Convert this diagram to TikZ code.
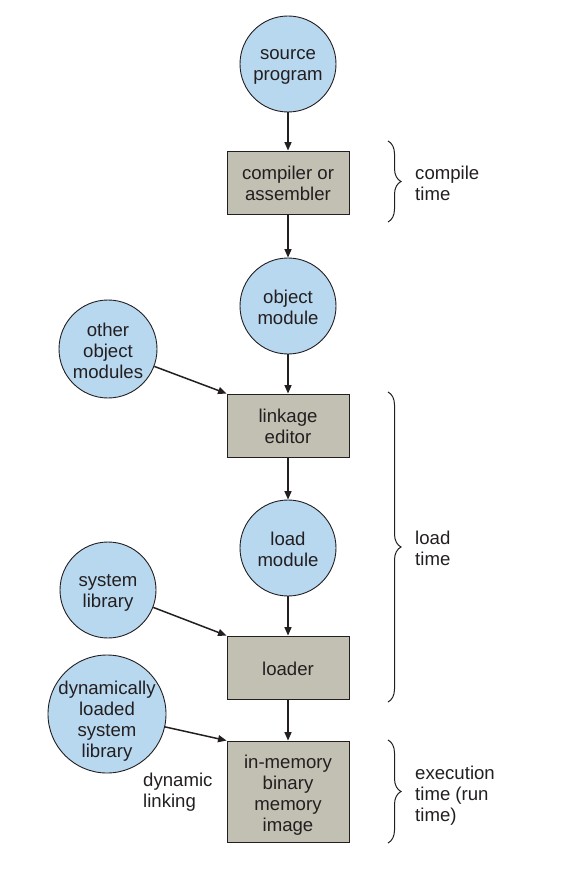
\documentclass[tikz,border=0pt]{standalone}
\usepackage{fontspec}
\setmainfont{Liberation Sans}
\usetikzlibrary{decorations.pathreplacing,arrows.meta}
\definecolor{cblue}{RGB}{184,216,240}
\definecolor{bgray}{RGB}{194,191,179}
\definecolor{ink}{RGB}{35,31,32}
\begin{document}
\begin{tikzpicture}[x=1pt,y=-1pt,
 every node/.style={font=\fontsize{18.6}{21}\selectfont, text=ink},
 circ/.style={circle, draw=ink, fill=cblue, line width=0.9pt, minimum size=96pt, inner sep=0pt},
 proc/.style={rectangle, draw=ink, fill=bgray, line width=0.9pt, minimum width=122pt, minimum height=63pt, inner sep=0pt},
 tx/.style={align=center, inner sep=0pt, anchor=north, execute at begin node=\strut},
 lbl/.style={align=left, inner sep=0pt, anchor=north west, execute at begin node=\strut},
 arr/.style={draw=ink, line width=1.5pt, -{Triangle[length=8.5pt,width=7pt]}},
 brc/.style={draw=ink, line width=1pt, decorate, decoration={brace, amplitude=13pt}}]
\useasboundingbox (0,0) rectangle (564,874);
% shapes
\node[circ] (src) at (288,64) {};
\node[proc] (comp) at (288,182.5) {};
\node[circ] (obj) at (288,306) {};
\node[circ, minimum size=98pt] (other) at (108,349) {};
\node[proc] (link) at (288,425.5) {};
\node[circ] (loadm) at (288,548) {};
\node[circ] (syslib) at (108,590) {};
\node[proc] (loader) at (288,667.5) {};
\node[circ, minimum size=118pt] (dyn) at (107,714) {};
\node[proc, minimum height=101pt] (mem) at (288,791.5) {};
% texts
\node[tx] (src-t) at (288,49.3) {source\\program};
\node[tx] (comp-t) at (288,166.3) {compiler or\\assembler};
\node[tx] (obj-t) at (288,289.8) {object\\module};
\node[tx] (other-t) at (108,322.6) {other\\object\\modules};
\node[tx] (link-t) at (288,409.3) {linkage\\editor};
\node[tx] (loadm-t) at (288,531.8) {load\\module};
\node[tx] (syslib-t) at (108,573.8) {system\\library};
\node[tx] (loader-t) at (288,660.3) {loader};
\node[tx] (dyn-t) at (107,681) {dynamically\\loaded\\system\\library};
\node[tx] (mem-t) at (288,755) {in-memory\\binary\\memory\\image};
\node[lbl] (dl) at (143,772.5) {dynamic\\linking};
% connectors
\draw[arr] (src) -- (comp);
\draw[arr] (comp) -- (obj);
\draw[arr] (obj) -- (link);
\draw[arr] (other) -- (link.north west);
\draw[arr] (link) -- (loadm);
\draw[arr] (loadm) -- (loader);
\draw[arr] (syslib) -- (loader.north west);
\draw[arr] (loader) -- (mem);
\draw[arr] (dyn) -- (mem.north west);
% braces
\coordinate (c1) at (388,141);
\coordinate (c2) at (388,222);
\coordinate (l1) at (388,392);
\coordinate (l2) at (388,702);
\coordinate (e1) at (388,740);
\coordinate (e2) at (388,843);
\draw[brc] (c1) -- (c2);
\draw[brc] (l1) -- (l2);
\draw[brc] (e1) -- (e2);
\node[lbl] (ct) at (415,166.3) {compile\\time};
\node[lbl] (lt) at (415,530.8) {load\\time};
\node[lbl] (et) at (415,766.3) {execution\\time (run\\time)};
\end{tikzpicture}
\end{document}
